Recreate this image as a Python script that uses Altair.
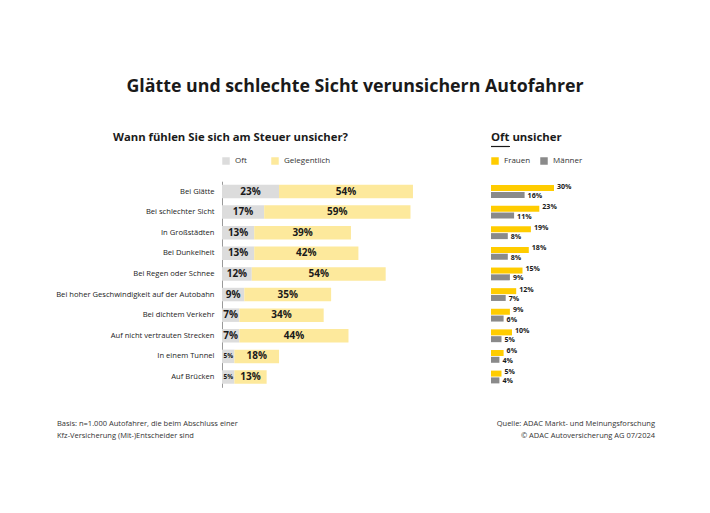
import altair as alt
import pandas as pd

# ---- data ----
categories = ["Bei Glätte", "Bei schlechter Sicht", "In Großstädten", "Bei Dunkelheit",
              "Bei Regen oder Schnee", "Bei hoher Geschwindigkeit auf der Autobahn",
              "Bei dichtem Verkehr", "Auf nicht vertrauten Strecken", "In einem Tunnel",
              "Auf Brücken"]
oft = [23, 17, 13, 13, 12, 9, 7, 7, 5, 5]
gelegentlich = [54, 59, 39, 42, 54, 35, 34, 44, 18, 13]
frauen = [30, 23, 19, 18, 15, 12, 9, 10, 6, 5]
maenner = [16, 11, 8, 8, 9, 7, 6, 5, 4, 4]

title = "Glätte und schlechte Sicht verunsichern Autofahrer"
left_title = "Wann fühlen Sie sich am Steuer unsicher?"
right_title = "Oft unsicher"
foot_left = ["Basis: n=1.000 Autofahrer, die beim Abschluss einer",
             "Kfz-Versicherung (Mit-)Entscheider sind"]
foot_right = ["Quelle: ADAC Markt- und Meinungsforschung",
              "© ADAC Autoversicherung AG 07/2024"]

FONT = "Open Sans"
DARK = "#1a1a1a"
C_OFT, C_GEL = "#dcdcdc", "#fde99c"
C_F, C_M = "#ffcc00", "#8a8a8a"

# ---- tables ----
rows = []
for c, o, g in zip(categories, oft, gelegentlich):
    rows.append({"cat": c, "serie": "Oft", "start": 0, "end": o, "val": o, "mid": o / 2})
    rows.append({"cat": c, "serie": "Gelegentlich", "start": o, "end": o + g, "val": g, "mid": o + g / 2})
left_df = pd.DataFrame(rows)
left_df["label"] = left_df["val"].astype(str) + "%"

fr_df = pd.DataFrame({"cat": categories, "g": "Frauen", "v": frauen})
ma_df = pd.DataFrame({"cat": categories, "g": "Männer", "v": maenner})
fr_df["label"] = fr_df["v"].astype(str) + "%"
ma_df["label"] = ma_df["v"].astype(str) + "%"

Y = alt.Y("cat:N", sort=categories,
          scale=alt.Scale(range=[173.2, 379.3], paddingInner=0, paddingOuter=0),
          axis=alt.Axis(title=None, ticks=False, labelPadding=8, offset=-214,
                        labelFont=FONT, labelFontSize=7.6, labelColor="#222",
                        domainColor="#9a9a9a", domainWidth=1, labelLimit=300))

XL = alt.Scale(domain=[0, 100], range=[214, 462])
XR = alt.Scale(domain=[0, 100], range=[483, 693])

# ---- left panel ----
left_bars = alt.Chart(left_df).mark_bar(height=13.5).encode(
    y=Y,
    x=alt.X("start:Q", scale=XL, axis=None),
    x2="end:Q",
    color=alt.Color("serie:N", scale=alt.Scale(domain=["Oft", "Gelegentlich"], range=[C_OFT, C_GEL]),
                    legend=alt.Legend(title=None, orient="none", legendX=214, legendY=149,
                                      direction="horizontal", symbolType="square",
                                      symbolSize=56, symbolStrokeWidth=0,
                                      labelFont=FONT, labelFontSize=8, labelColor="#333",
                                      columnPadding=24, labelOffset=5)),
)
left_text = alt.Chart(left_df).mark_text(font=FONT, fontWeight="bold", color=DARK,
                                         baseline="middle", align="center").encode(
    y=Y,
    x=alt.X("mid:Q", scale=XL, axis=None),
    text="label:N",
    size=alt.condition(alt.datum.val < 6, alt.value(6.5), alt.value(10)),
)
left = alt.layer(left_bars, left_text)

# ---- right panel ----
leg_r = alt.Legend(title=None, orient="none", legendX=483, legendY=149,
                   direction="horizontal", symbolType="square", symbolSize=56,
                   symbolStrokeWidth=0, labelFont=FONT, labelFontSize=8, labelColor="#333",
                   columnPadding=9, labelOffset=5)
CR = alt.Color("g:N", scale=alt.Scale(domain=["Frauen", "Männer"], range=[C_F, C_M]), legend=leg_r)

fr_bar = alt.Chart(fr_df).mark_bar(height=6, yOffset=-3.4).encode(
    y=Y, x=alt.X("v:Q", scale=XR, axis=None), color=CR)
ma_bar = alt.Chart(ma_df).mark_bar(height=6, yOffset=3.4).encode(
    y=Y, x=alt.X("v:Q", scale=XR, axis=None), color=CR)
fr_txt = alt.Chart(fr_df).mark_text(font=FONT, fontWeight="bold", fontSize=7.1, color=DARK,
                                    align="left", baseline="middle", dx=3, yOffset=-4.9).encode(
    y=Y, x=alt.X("v:Q", scale=XR, axis=None), text="label:N")
ma_txt = alt.Chart(ma_df).mark_text(font=FONT, fontWeight="bold", fontSize=7.1, color=DARK,
                                    align="left", baseline="middle", dx=3, yOffset=4.5).encode(
    y=Y, x=alt.X("v:Q", scale=XR, axis=None), text="label:N")
right = alt.layer(fr_bar, ma_bar, fr_txt, ma_txt)

# ---- texts ----
def txt(s, x, y, size, weight="normal", align="left", color=DARK):
    return alt.Chart(pd.DataFrame({"t": [s]})).mark_text(
        font=FONT, fontSize=size, fontWeight=weight, align=align, baseline="middle", color=color
    ).encode(text="t:N", x=alt.value(x), y=alt.value(y))

texts = [
    txt(title, 347, 79, 17.8, "bold", "center"),
    txt(left_title, 105, 130, 11.3, "bold"),
    txt(right_title, 483, 130, 11.4, "bold"),
    txt(foot_left[0], 49, 416, 7.5, color="#333"),
    txt(foot_left[1], 49, 428, 7.5, color="#333"),
    txt(foot_right[0], 647, 416, 7.5, align="right", color="#333"),
    txt(foot_right[1], 647, 428, 7.5, align="right", color="#333"),
]
underline = alt.Chart(pd.DataFrame({"t": [0]})).mark_rule(color=DARK, strokeWidth=1.2).encode(
    x=alt.value(483), x2=alt.value(502), y=alt.value(138.5))

chart = alt.layer(left, right, *texts, underline).resolve_scale(
    x="independent", color="independent"
).properties(
    width=694, height=497, autosize=alt.AutoSizeParams(type="none"), padding=0,
    background="white"
).configure_view(stroke=None)

chart.save("out.html", embed_options={"renderer": "svg", "actions": False})
